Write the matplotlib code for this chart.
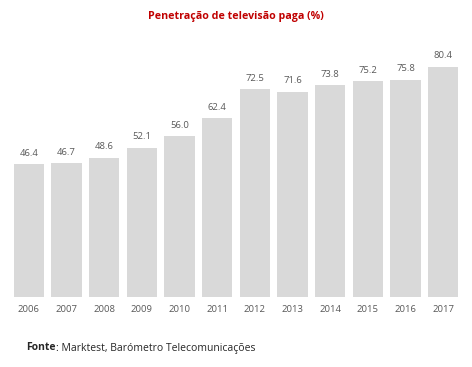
import numpy as np
import matplotlib.pyplot as plt

plt.rcParams['font.family'] = ['Open Sans', 'DejaVu Sans']

years = ["2006", "2007", "2008", "2009", "2010", "2011",
         "2012", "2013", "2014", "2015", "2016", "2017"]
values = [46.4, 46.7, 48.6, 52.1, 56.0, 62.4, 72.5, 71.6, 73.8, 75.2, 75.8, 80.4]

fig = plt.figure(figsize=(4.72, 3.67), dpi=100)
ax = fig.add_axes([10 / 472, 1 - 297 / 367, 452 / 472, 258 / 367])

x = np.arange(len(years))
ax.bar(x, values, width=0.8, color="#D9D9D9")
for xi, v in zip(x, values):
    ax.text(xi, v + 2.2, f"{v:.1f}", ha="center", va="bottom",
            fontsize=6.8, color="#595959")

ax.set_xlim(-0.5, len(years) - 0.5)
ax.set_ylim(0, 90)
ax.set_xticks(x)
ax.set_xticklabels(years, fontsize=6.8, color="#595959")
ax.tick_params(axis="x", length=0, pad=6)
ax.set_yticks([])
for s in ax.spines.values():
    s.set_visible(False)

fig.text(0.5, 1 - 16 / 367, "Penetração de televisão paga (%)", ha="center",
         va="center", fontsize=7.7, fontweight="bold", color="#C00000")

# source line: bold "Fonte" followed by regular text
t1 = fig.text(26 / 472, 1 - 348 / 367, "Fonte", ha="left", va="center",
              fontsize=7.5, fontweight="bold", color="#262626")
fig.canvas.draw()
bb = t1.get_window_extent(renderer=fig.canvas.get_renderer())
fig.text(bb.x1 / fig.bbox.width, 1 - 348 / 367,
         ": Marktest, Barómetro Telecomunicações",
         ha="left", va="center", fontsize=7.5, color="#262626")

fig.savefig("out.png", dpi=100)
